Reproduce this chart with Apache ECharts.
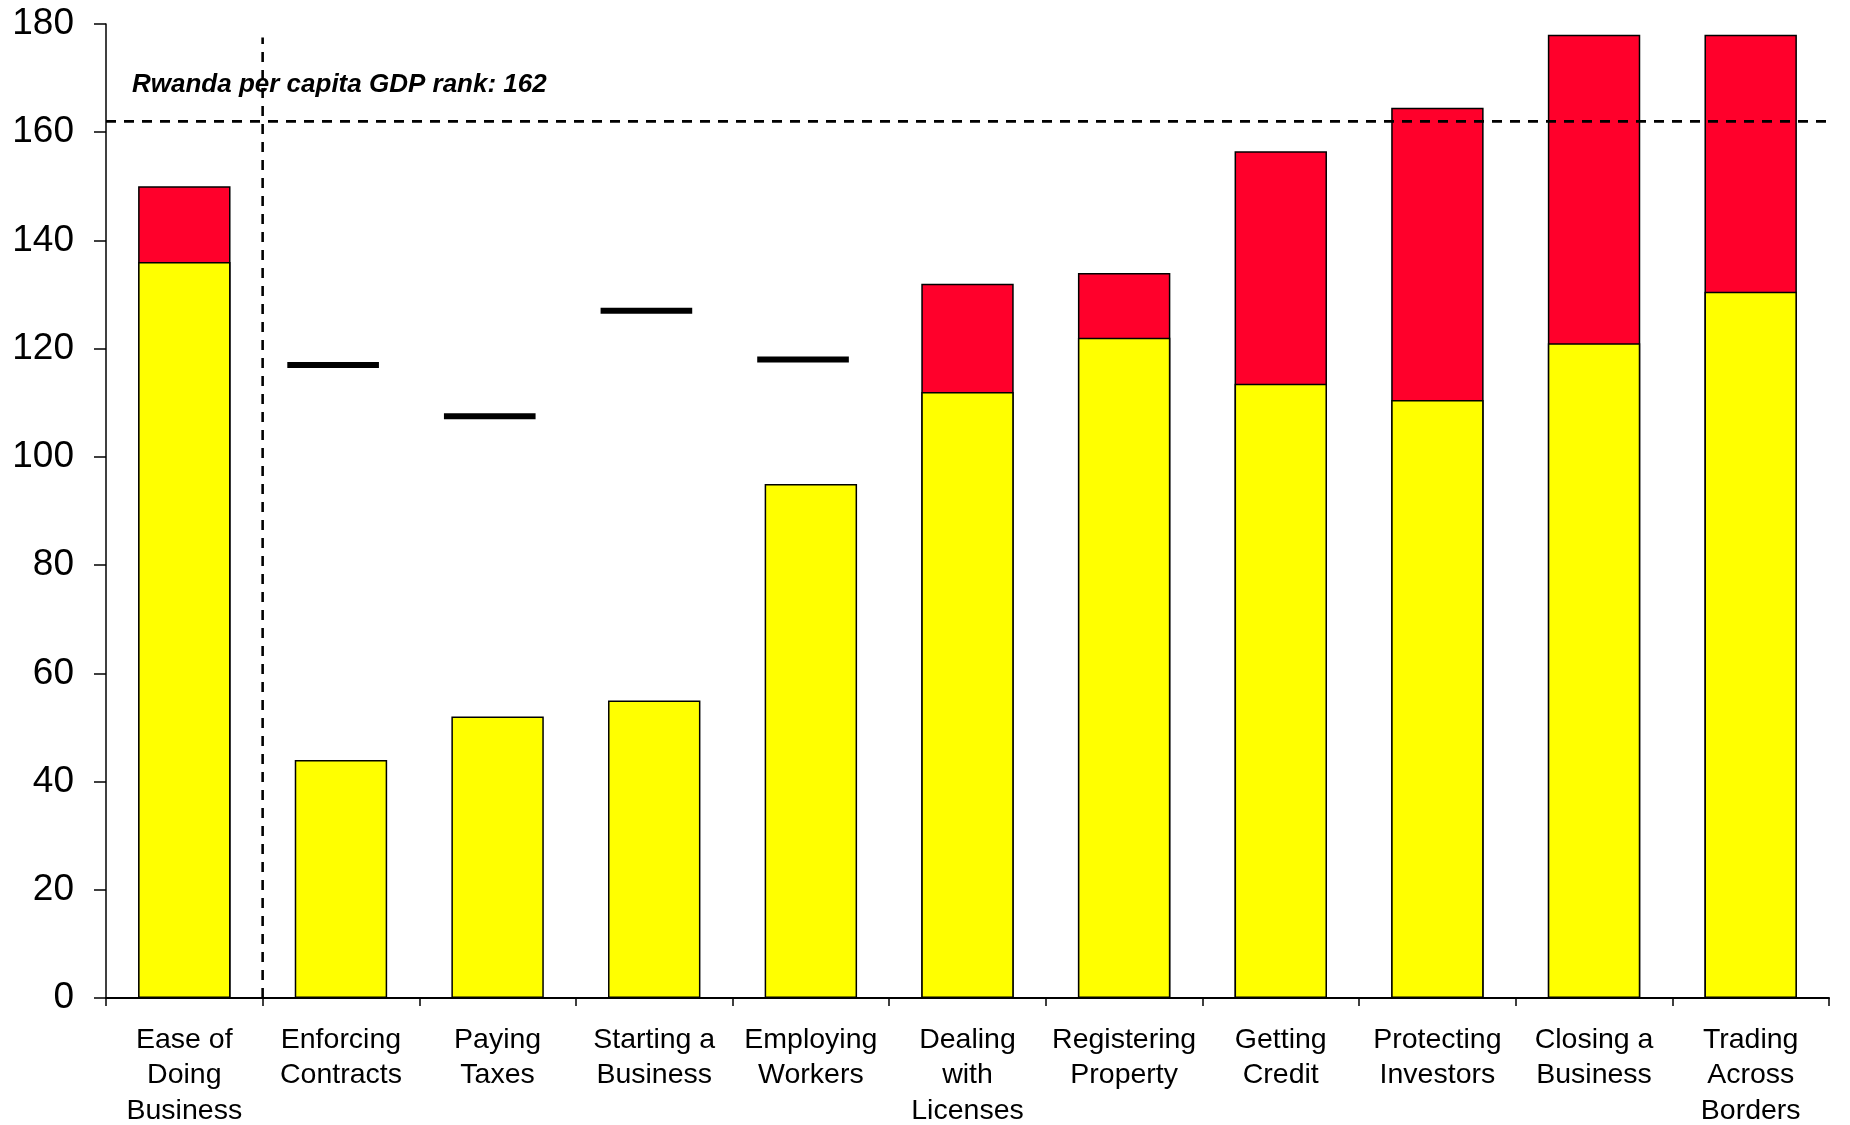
<!DOCTYPE html>
<html>
<head>
<meta charset="utf-8">
<title>Rwanda – Doing Business rankings</title>
<script src="https://cdn.jsdelivr.net/npm/echarts@6/dist/echarts.min.js"></script>
<style>
  html, body { margin: 0; padding: 0; background: #fff; }
  #chart { width: 1850px; height: 1125px; }
</style>
</head>
<body>
<div id="chart"></div>
<script>
// Doing Business topics, one bar per topic
const categories = [
  'Ease of\nDoing\nBusiness', 'Enforcing\nContracts', 'Paying\nTaxes', 'Starting a\nBusiness',
  'Employing\nWorkers', 'Dealing\nwith\nLicenses', 'Registering\nProperty', 'Getting\nCredit',
  'Protecting\nInvestors', 'Closing a\nBusiness', 'Trading\nAcross\nBorders'
];
// Rank (yellow bars)
const rankValues = [136, 44, 52, 55, 95, 112, 122, 113.5, 110.5, 121, 130.5];
// Upper rank drawn in red above the yellow bar
const upperValues = [150, null, null, null, null, 132, 134, 156.5, 164.5, 178, 178];
// Upper rank drawn as a black bar marker
const markerValues = [null, 117, 107.5, 127, 118, null, null, null, null, null, null];
// Per capita GDP rank reference
const gdpRank = 162;
const gdpLabel = 'Rwanda per capita GDP rank: 162';
// Separator between the overall rank and the topic ranks
const separatorTop = 177.5;
const yTicks = { min: 0, max: 180, interval: 20 };

const FONT = '"Liberation Sans", Arial, sans-serif';
const BAR_FRACTION = 0.59;
const MARKER_FRACTION = 0.585;
const MARKER_SHIFT = -0.05;   // markers sit slightly left of the bar centre
const DASH = { color: '#000', width: 2.6, type: [10, 8] };

const chart = echarts.init(document.getElementById('chart'), null, { renderer: 'canvas' });

const markerData = markerValues
  .map((v, i) => (v == null ? null : [i, v]))
  .filter(d => d !== null);

chart.setOption({
  animation: false,
  backgroundColor: '#ffffff',
  title: {
    text: gdpLabel,
    left: 127,
    top: 67,
    textStyle: { fontFamily: FONT, fontSize: 26, fontWeight: 'bold', fontStyle: 'italic', color: '#000' }
  },
  grid: { left: 106, right: 21, top: 24, bottom: 127, containLabel: false, outerBoundsMode: 'none' },
  xAxis: [
    {
      type: 'category',
      data: categories,
      axisLine: { lineStyle: { color: '#000', width: 2 } },
      axisTick: { show: true, interval: 0, length: 8, lineStyle: { color: '#000', width: 1.5 } },
      axisLabel: {
        interval: 0, margin: 24, color: '#000',
        fontFamily: FONT, fontSize: 28.5, lineHeight: 35.5
      }
    },
    { type: 'value', min: 0, max: categories.length, show: false }
  ],
  yAxis: {
    type: 'value',
    min: yTicks.min, max: yTicks.max, interval: yTicks.interval,
    splitLine: { show: false },
    axisLine: { show: true, lineStyle: { color: '#000', width: 1.5 } },
    axisTick: { show: true, length: 12, lineStyle: { color: '#000', width: 1.5 } },
    axisLabel: { margin: 32, color: '#000', fontFamily: FONT, fontSize: 37 }
  },
  series: [
    {
      name: 'upper',
      type: 'bar',
      xAxisIndex: 0,
      data: upperValues,
      barWidth: (BAR_FRACTION * 100) + '%',
      barGap: '-100%',
      itemStyle: { color: '#FF002B', borderColor: '#000', borderWidth: 1.5 }
    },
    {
      name: 'rank',
      type: 'bar',
      xAxisIndex: 0,
      data: rankValues,
      barWidth: (BAR_FRACTION * 100) + '%',
      barGap: '-100%',
      itemStyle: { color: '#FFFF00', borderColor: '#000', borderWidth: 1.5 }
    },
    {
      name: 'marker',
      type: 'custom',
      xAxisIndex: 0,
      data: markerData,
      renderItem: function (params, api) {
        const p = api.coord([api.value(0), api.value(1)]);
        const band = api.size([1, 0])[0];
        const w = band * MARKER_FRACTION;
        const cx = p[0] + band * MARKER_SHIFT;
        return {
          type: 'rect',
          shape: { x: cx - w / 2, y: p[1] - 3, width: w, height: 6 },
          style: { fill: '#000' }
        };
      },
      z: 5
    },
    {
      name: 'gdp',
      type: 'line',
      xAxisIndex: 1,
      data: [[0, gdpRank], [categories.length + 0.14, gdpRank]],
      clip: false,
      symbol: 'none',
      lineStyle: DASH,
      z: 4
    },
    {
      name: 'separator',
      type: 'line',
      xAxisIndex: 1,
      data: [[1, 0], [1, separatorTop]],
      symbol: 'none',
      lineStyle: DASH,
      z: 4
    }
  ]
});
</script>
</body>
</html>
